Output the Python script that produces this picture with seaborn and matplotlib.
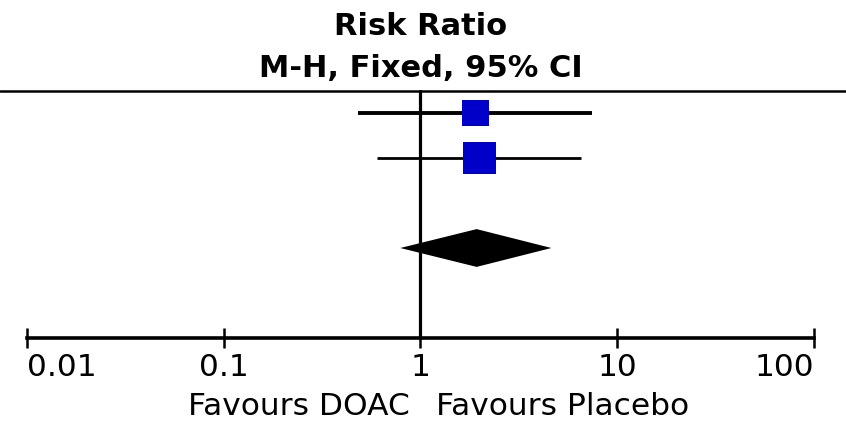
import numpy as np
import pandas as pd
import matplotlib
matplotlib.use("Agg")
import matplotlib.pyplot as plt
import seaborn as sns

# Study estimates (risk ratio with 95% CI) and pooled fixed-effect result
studies = ["Study 1", "Study 2"]
rr = [1.90, 1.99]
ci_low = [0.48, 0.60]
ci_high = [7.48, 6.58]
weights = [40.0, 60.0]

pooled_rr = 1.93
pooled_low = 0.79
pooled_high = 4.63

tick_values = [0.01, 0.1, 1, 10, 100]
tick_labels = ["0.01", "0.1", "1", "10", "100"]
left_label = "Favours DOAC"
right_label = "Favours Placebo"

sns.set_theme(style="white")
plt.rcParams["font.family"] = ["DejaVu Sans"]
plt.rcParams["text.color"] = "black"

fig = plt.figure(figsize=(8.46, 4.21), dpi=100)
ax = fig.add_axes([0, 0, 1, 1])

df = pd.DataFrame({"study": studies, "rr": rr, "lo": ci_low, "hi": ci_high,
                   "w": weights, "row": [0.0, 1.0]})
pooled_row = 3.0
axis_row = 5.0

# confidence interval whiskers
for lw, (_, r) in zip([2.8, 2.0], df.iterrows()):
    ax.plot([r.lo, r.hi], [r.row, r.row], color="black", lw=lw,
            solid_capstyle="butt", zorder=2)

# weighted squares
df["area"] = df["w"] / max(weights) * 23.5 ** 2
sns.scatterplot(data=df, x="rr", y="row", size="area",
                sizes=(df["area"].min(), df["area"].max()),
                marker="s", color="#0000C8", edgecolor="none", legend=False,
                ax=ax, zorder=3)

# pooled diamond
h = 0.42
ax.fill([pooled_low, pooled_rr, pooled_high, pooled_rr],
        [pooled_row, pooled_row - h, pooled_row, pooled_row + h],
        color="black", lw=0, zorder=3)

# line of no effect and header rule
ax.plot([1, 1], [-0.5, axis_row], color="black", lw=2.3, zorder=1)
ax.axhline(-0.5, color="black", lw=1.8)

ax.set_xscale("log")
ax.set_xlim(10 ** -2.137, 10 ** 2.163)
ax.set_ylim((421 - 113) / 45.0, -113 / 45.0)
ax.set_xlabel("")
ax.set_ylabel("")

for s in ["top", "left", "right"]:
    ax.spines[s].set_visible(False)
ax.spines["bottom"].set_position(("data", axis_row))
ax.spines["bottom"].set_bounds(0.01, 100)
ax.spines["bottom"].set_linewidth(2.6)
ax.spines["bottom"].set_color("black")
ax.set_xticks(tick_values)
ax.set_xticklabels(tick_labels)
ax.xaxis.set_minor_locator(matplotlib.ticker.NullLocator())
ax.tick_params(axis="x", direction="inout", length=15, width=1.8, color="black",
               labelsize=22.5, labelcolor="black", pad=3, bottom=True)
labels = ax.get_xticklabels()
labels[0].set_horizontalalignment("left")
labels[-1].set_horizontalalignment("right")
ax.set_yticks([])
ax.patch.set_alpha(0)

# header and direction labels
ax.text(1, (35 - 113) / 45.0, "Risk Ratio", ha="center", va="baseline",
        fontsize=22, fontweight="bold")
ax.text(1, (77 - 113) / 45.0, "M-H, Fixed, 95% CI", ha="center", va="baseline",
        fontsize=22, fontweight="bold")
ax.text(0.879, (415 - 113) / 45.0, left_label, ha="right", va="baseline", fontsize=22.5)
ax.text(1.206, (415 - 113) / 45.0, right_label, ha="left", va="baseline", fontsize=22.5)

fig.savefig("out.png", dpi=100)
